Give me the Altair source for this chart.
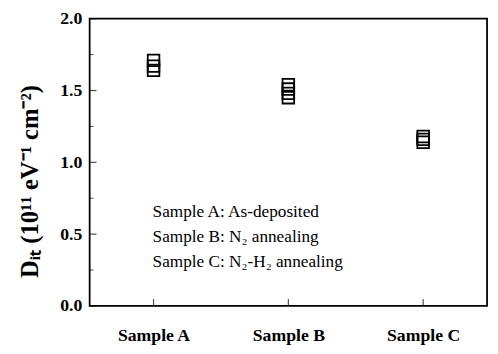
import altair as alt
import pandas as pd

samples = ["Sample A", "Sample B", "Sample C"]
dit_a = [1.64, 1.67, 1.71]
dit_b = [1.45, 1.48, 1.51, 1.54]
dit_c = [1.14, 1.16, 1.18]
major_ticks = [0.0, 0.5, 1.0, 1.5, 2.0]
minor_ticks = [0.25, 0.75, 1.25, 1.75]
notes = "Sample A: As-deposited\nSample B: N\u2082 annealing\nSample C: N\u2082-H\u2082 annealing"

rows = []
for s, vals in zip(samples, [dit_a, dit_b, dit_c]):
    for v in vals:
        rows.append({"sample": s, "dit": v})
df = pd.DataFrame(rows)

W, H = 404, 292
FONT = "Liberation Serif"

xscale = alt.Scale(type="point", domain=samples, padding=0.474)
yscale = alt.Scale(domain=[0, 2.0])

points = alt.Chart(df).mark_point(
    shape="square", filled=False, stroke="black", strokeWidth=1.8, size=140, opacity=1
).encode(
    x=alt.X("sample:N", scale=xscale, sort=samples,
            axis=alt.Axis(title=None, ticks=False, domain=False, labelAngle=0,
                          labelFont=FONT, labelFontSize=18, labelFontWeight="bold",
                          labelColor="black", labelPadding=21)),
    y=alt.Y("dit:Q", scale=yscale,
            axis=alt.Axis(values=major_ticks, format=".1f", ticks=False, domain=False, grid=False,
                          labelFont=FONT, labelFontSize=18, labelFontWeight="bold",
                          labelColor="black", labelPadding=8,
                          title="D\u1d62\u209c (10\u00b9\u00b9 eV\u207b\u00b9 cm\u207b\u00b2)",
                          titleFont=FONT, titleFontSize=25, titleFontWeight="bold",
                          titleColor="black", titleAngle=270, titleX=-61, titleY=165,
                          titleBaseline="middle", titleAlign="center")),
)

ymaj = alt.Chart(pd.DataFrame({"t": major_ticks})).mark_tick(
    orient="horizontal", color="black", size=7, thickness=1.2
).encode(y=alt.Y("t:Q", scale=yscale), x=alt.value(3.5))

ymin = alt.Chart(pd.DataFrame({"t": minor_ticks})).mark_tick(
    orient="horizontal", color="black", size=4, thickness=1
).encode(y=alt.Y("t:Q", scale=yscale), x=alt.value(2))

xt = alt.Chart(pd.DataFrame({"sample": samples})).mark_tick(
    orient="vertical", color="black", size=7, thickness=1.2
).encode(x=alt.X("sample:N", scale=xscale, sort=samples), y=alt.value(H - 3.5))

txt = alt.Chart(pd.DataFrame({"note": [notes]})).mark_text(
    align="left", baseline="top", font=FONT, fontSize=17.5, color="black",
    lineBreak="\n", lineHeight=25
).encode(text="note:N", x=alt.value(64), y=alt.value(188))

chart = alt.layer(points, ymaj, ymin, xt, txt).properties(
    width=W, height=H,
    autosize=alt.AutoSizeParams(type="none"),
    padding={"left": 83, "top": 8, "right": 3, "bottom": 46},
    background="white",
).configure_view(stroke="black", strokeWidth=1.8)

chart.save("out.html", embed_options={"renderer": "svg", "actions": False})
